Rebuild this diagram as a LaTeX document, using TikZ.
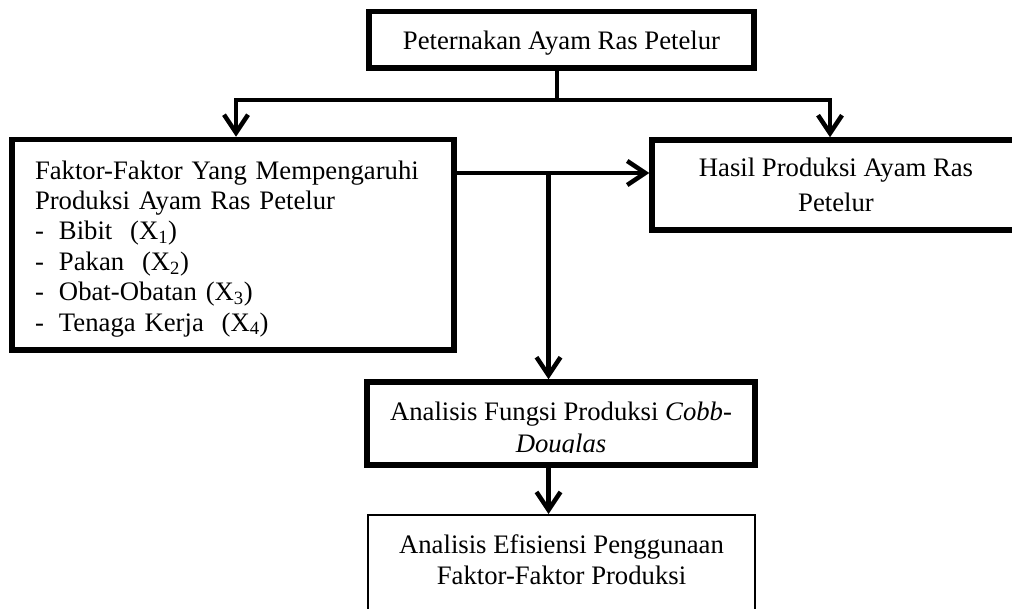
\documentclass[tikz,border=0pt]{standalone}
\usepackage{fontspec}
\setmainfont{Liberation Serif}
\usepackage{trimclip}
\usetikzlibrary{arrows.meta,positioning,calc}
\tikzset{
mainbox/.style={draw,line width=5.5pt,inner sep=0pt,align=center},
plainbox/.style={draw,line width=2pt,inner sep=0pt,align=center},
flow/.style={-{Straight Barb[length=18pt,width=24pt]},line width=4.5pt},
link/.style={line width=4.5pt}
}

\begin{document}
\begin{tikzpicture}[x=1pt,y=-1pt,font=\fontsize{26.7pt}{28.8pt}\selectfont]
\useasboundingbox (0,0) rectangle (1012,609);
\clip (0,0) rectangle (1012,609);
\node[mainbox,minimum width=385pt,minimum height=56.5pt](farm) at (561.5,39.75){\rule{0pt}{26pt}Peternakan Ayam Ras Petelur};
\node[mainbox,align=left,text width=396pt,inner xsep=23pt,minimum height=210.5pt,font=\fontsize{26.7pt}{30.4pt}\selectfont](factor) at (233,244.75){\rule{0pt}{26.3pt}Faktor-Faktor Yang Mempengaruhi\\Produksi Ayam Ras Petelur\\\makebox[24pt][l]{-}Bibit~~(X\textsubscript{1})\\\makebox[24pt][l]{-}Pakan~~(X\textsubscript{2})\\\makebox[24pt][l]{-}Obat-Obatan (X\textsubscript{3})\\\makebox[24pt][l]{-}Tenaga Kerja~~(X\textsubscript{4})};
\node[mainbox,minimum width=368pt,minimum height=90pt,font=\fontsize{26.7pt}{35pt}\selectfont](yield) at (836,185){Hasil Produksi Ayam Ras\\Petelur};
\node[mainbox,minimum width=388pt,minimum height=83pt,font=\fontsize{26.7pt}{32pt}\selectfont](cd) at (561,423.5){\rule{0pt}{26pt}Analisis Fungsi Produksi \textit{Cobb-}\\\clipbox{0pt 5pt 0pt 0pt}{\textit{Douglas}}};
\node[plainbox,anchor=north,minimum width=387pt,inner ysep=19.8pt,font=\fontsize{26.7pt}{31pt}\selectfont](eff) at (561.5,514){Analisis Efisiensi Penggunaan\\Faktor-Faktor Produksi\rule[-40pt]{0pt}{40pt}};
% connectors
\coordinate (split) at (557,100);
\coordinate (fork) at (548.5,173);
\draw[link]([xshift=-4.5pt]farm.south)--(split);
\draw[flow](split)-|([xshift=3pt]factor.north);
\draw[flow](split)-|([xshift=-6pt]yield.north);
\draw[flow](fork-|factor.east)--(fork-|yield.west);
\draw[flow](fork)--(fork|-cd.north);
\draw[flow](fork|-cd.south)--(fork|-eff.north);
\end{tikzpicture}
\end{document}
